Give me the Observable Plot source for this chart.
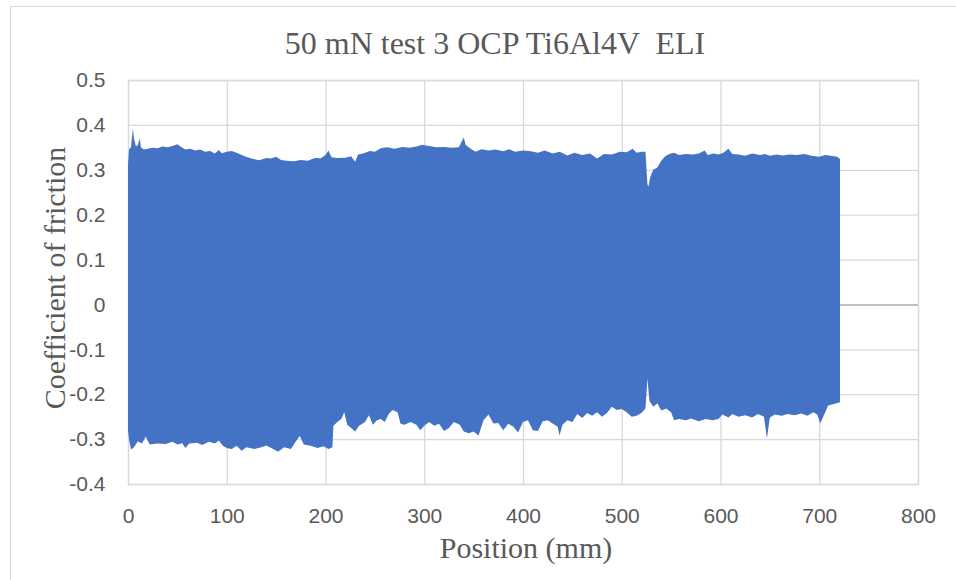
<!DOCTYPE html>
<html>
<head>
<meta charset="utf-8">
<script src="https://cdn.jsdelivr.net/npm/d3@7"></script>
<script src="https://cdn.jsdelivr.net/npm/@observablehq/plot@0.6"></script>
<style>
  html, body { margin: 0; padding: 0; background: #fff; overflow: hidden; }
  #wrap { position: relative; width: 956px; height: 580px; overflow: hidden; }
  #frame { position: absolute; left: 10px; top: 6px; width: 1000px; height: 700px; border-left: 1.5px solid #d9d9d9; border-top: 1.5px solid #d9d9d9; }
  .lbl { position: absolute; font-family: "Liberation Serif", "Times New Roman", serif; color: #595959; white-space: pre; line-height: 1; transform: translate(-50%, -50%); }
  #chart { position: absolute; left: 0; top: 0; }
</style>
</head>
<body>
<div id="wrap">
  <div id="frame"></div>
  <div id="chart"></div>
  <div class="lbl" id="title" style="left:495px; top:43px; font-size:32px;">50 mN test 3 OCP Ti6Al4V  ELI</div>
  <div class="lbl" id="ylab" style="left:55px; top:278px; font-size:30px; transform: translate(-50%, -50%) rotate(-90deg);">Coefficient of friction</div>
  <div class="lbl" id="xlab" style="left:526px; top:548px; font-size:30px;">Position (mm)</div>
</div>
<script>
// ---- data (envelope of the oscillating friction signal) ----
const upperPos = [0,1,3,5,6,8,10,12,13,16,20,25,30,35,40,45,50,53,58,63,68,73,78,83,88,92,95,100,105,110,118,125,133,140,145,150,155,160,168,175,182,190,195,200,203,206,212,220,226,230,233,238,245,250,256,262,270,278,285,292,298,305,312,320,328,335,340,342,348,352,358,365,372,380,386,392,400,408,415,422,430,437,445,452,460,468,475,482,490,498,505,511,515,520,524,526,527,529,532,536,540,544,548,553,558,565,572,578,584,587,593,598,603,608,612,618,625,632,640,645,650,657,663,670,677,685,692,700,706,712,718,721];
const upperCof = [0.31,0.345,0.35,0.392,0.37,0.352,0.355,0.37,0.35,0.345,0.347,0.349,0.348,0.352,0.35,0.353,0.357,0.352,0.345,0.347,0.343,0.345,0.34,0.342,0.336,0.344,0.337,0.34,0.342,0.338,0.33,0.325,0.321,0.326,0.325,0.329,0.322,0.32,0.319,0.322,0.32,0.327,0.325,0.333,0.343,0.328,0.326,0.327,0.33,0.318,0.334,0.336,0.342,0.34,0.348,0.35,0.347,0.351,0.349,0.352,0.356,0.353,0.35,0.351,0.349,0.35,0.372,0.355,0.345,0.34,0.346,0.343,0.345,0.341,0.346,0.34,0.343,0.341,0.338,0.343,0.336,0.34,0.332,0.338,0.333,0.336,0.325,0.335,0.334,0.34,0.339,0.347,0.338,0.34,0.34,0.268,0.262,0.285,0.3,0.305,0.32,0.33,0.335,0.338,0.333,0.335,0.334,0.336,0.343,0.333,0.336,0.334,0.338,0.347,0.335,0.334,0.331,0.336,0.333,0.335,0.331,0.334,0.332,0.334,0.333,0.335,0.331,0.329,0.333,0.331,0.329,0.324];

const lowerPos = [0,1,3,6,10,14,18,22,30,38,45,50,55,58,62,70,75,82,88,92,96,100,105,110,115,120,128,135,140,147,152,158,165,170,174,178,185,192,198,203,207,208,212,216,219,222,226,230,234,240,244,248,252,256,260,264,268,273,276,280,286,292,296,300,305,310,315,320,325,330,336,340,345,350,355,360,365,370,375,380,385,390,395,400,405,410,415,420,425,430,435,437,440,445,450,455,460,465,470,475,480,485,490,495,500,505,510,515,520,524,526,528,532,536,540,545,550,553,558,565,570,578,585,592,598,602,608,612,618,625,632,638,644,647,650,655,662,668,675,682,688,694,698,701,705,709,715,721];
const lowerCof = [-0.28,-0.3,-0.323,-0.318,-0.305,-0.31,-0.295,-0.312,-0.31,-0.311,-0.306,-0.312,-0.309,-0.32,-0.31,-0.308,-0.313,-0.306,-0.31,-0.303,-0.315,-0.32,-0.322,-0.315,-0.326,-0.318,-0.322,-0.318,-0.314,-0.322,-0.328,-0.318,-0.322,-0.305,-0.293,-0.312,-0.315,-0.32,-0.316,-0.322,-0.318,-0.27,-0.262,-0.255,-0.24,-0.268,-0.275,-0.283,-0.27,-0.262,-0.247,-0.268,-0.258,-0.255,-0.262,-0.244,-0.235,-0.24,-0.266,-0.268,-0.262,-0.268,-0.28,-0.27,-0.262,-0.27,-0.266,-0.282,-0.275,-0.262,-0.268,-0.283,-0.287,-0.283,-0.292,-0.258,-0.245,-0.265,-0.264,-0.28,-0.266,-0.272,-0.285,-0.262,-0.258,-0.28,-0.282,-0.26,-0.258,-0.265,-0.272,-0.292,-0.268,-0.258,-0.262,-0.244,-0.253,-0.242,-0.248,-0.24,-0.25,-0.242,-0.228,-0.235,-0.233,-0.24,-0.25,-0.248,-0.242,-0.232,-0.165,-0.215,-0.228,-0.22,-0.236,-0.232,-0.24,-0.258,-0.255,-0.258,-0.254,-0.26,-0.255,-0.258,-0.255,-0.245,-0.252,-0.244,-0.25,-0.247,-0.252,-0.244,-0.25,-0.298,-0.252,-0.245,-0.248,-0.244,-0.247,-0.243,-0.248,-0.24,-0.245,-0.265,-0.245,-0.225,-0.222,-0.218];

const xTicks = [0, 100, 200, 300, 400, 500, 600, 700, 800];
const yTicks = [-0.4, -0.3, -0.2, -0.1, 0, 0.1, 0.2, 0.3, 0.4, 0.5];
const yTickLabels = ["-0.4", "-0.3", "-0.2", "-0.1", "0", "0.1", "0.2", "0.3", "0.4", "0.5"];

const seriesColor = "#4472C4";

const upper = upperPos.map((p, i) => ({pos: p, cof: upperCof[i]}));
const lower = lowerPos.map((p, i) => ({pos: p, cof: lowerCof[i]}));

const chart = Plot.plot({
  width: 956,
  height: 580,
  marginLeft: 128,
  marginRight: 38,
  marginTop: 80,
  marginBottom: 96,
  x: {domain: [0, 800], label: null},
  y: {domain: [-0.4, 0.5], label: null},
  style: {fontFamily: "'Liberation Sans', Arial, sans-serif", background: "transparent"},
  marks: [
    Plot.ruleX(xTicks, {stroke: "#d9d9d9", strokeWidth: 1.3}),
    Plot.ruleY(yTicks, {stroke: "#d9d9d9", strokeWidth: 1.3}),
    Plot.frame({stroke: "#d9d9d9", strokeWidth: 1.3}),
    Plot.ruleY([0], {stroke: "#bfbfbf", strokeWidth: 2}),
    Plot.areaY(upper, {x: "pos", y1: -0.02, y2: "cof", fill: seriesColor}),
    Plot.areaY(lower, {x: "pos", y1: "cof", y2: 0.02, fill: seriesColor}),
    Plot.axisX({ticks: xTicks, tickSize: 0, tickPadding: 24, fontSize: 21, color: "#595959", label: null, tickFormat: d => String(d)}),
    Plot.axisY({ticks: yTicks, tickSize: 0, tickPadding: 23, fontSize: 21, color: "#595959", label: null, tickFormat: (d, i) => yTickLabels[i]})
  ]
});
document.getElementById("chart").appendChild(chart);
</script>
</body>
</html>
